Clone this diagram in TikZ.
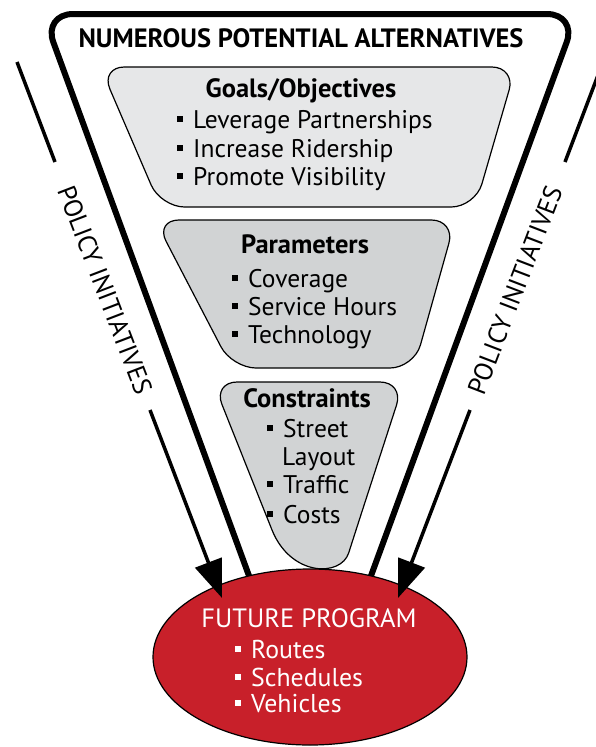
\documentclass[tikz,border=0pt]{standalone}
\usepackage{fontspec}
\setmainfont{PT Sans}
\usetikzlibrary{arrows.meta,shapes.geometric}
\definecolor{fpred}{HTML}{C8202A}
\definecolor{goalgray}{HTML}{E6E7E8}
\definecolor{pargray}{HTML}{D1D3D4}
% square list bullet followed by the gap before the item text
\newcommand{\sqbullet}{\rule[6pt]{6pt}{6pt}\hspace{10pt}}
\begin{document}
\begin{tikzpicture}[x=1pt,y=-1pt,
  funnel/.style={line width=6pt, rounded corners=30pt},
  panel/.style={draw=black, line width=1.2pt, rounded corners=24pt},
  policyline/.style={line width=3.5pt},
  policyarrow/.style={line width=3.5pt, -{Triangle[length=38pt,width=28pt]}},
  headtext/.style={font=\fontsize{26.5}{30}\selectfont\bfseries, inner sep=0pt, anchor=base},
  itemtext/.style={font=\fontsize{25.5}{30}\selectfont, inner sep=0pt, anchor=base west},
  policytext/.style={font=\fontsize{26}{30}\selectfont, inner sep=0pt},
  fptext/.style={font=\fontsize{26.5}{30}\selectfont, text=white, inner sep=0pt, anchor=base},
  fpitem/.style={font=\fontsize{25.8}{30}\selectfont, text=white, inner sep=0pt, anchor=base west}
]
\useasboundingbox (0,0) rectangle (595,747);

% outer funnel of alternatives
\coordinate (fL)  at (252,584);
\coordinate (fTL) at (43,14);
\coordinate (fTR) at (577,14);
\coordinate (fR)  at (368,584);
\draw[funnel] (fL) -- (fTL) -- (fTR) -- (fR);

% filter panels
\draw[panel, fill=goalgray] (308,67) -- (515.8,67) -- (475.2,207) -- (160.6,207) -- (100.4,67) -- cycle;
\draw[panel, fill=pargray] (305,220) -- (455.4,220) -- (414,368) -- (232,368) -- (155,220) -- cycle;
\draw[panel, fill=pargray] (308,382) -- (404,382) -- (356,530) [sharp corners]
  .. controls (341,577) and (291,577) .. (272,530) [rounded corners=24pt] -- (213,382) -- cycle;

% result
\node[ellipse, draw=black, line width=1.2pt, fill=fpred, minimum width=314pt, minimum height=176pt, inner sep=0pt] (fp) at (310,657) {};

% texts
\node[headtext] (title) at (301,47) {NUMEROUS POTENTIAL ALTERNATIVES};

\node[headtext] (gh) at (301,97) {Goals/Objectives};
\node[itemtext] (g1) at (177,128) {\sqbullet Leverage Partnerships};
\node[itemtext] (g2) at (177,157) {\sqbullet Increase Ridership};
\node[itemtext] (g3) at (177,185) {\sqbullet Promote Visibility};

\node[headtext] (ph) at (305,253) {Parameters};
\node[itemtext] (p1) at (232,287) {\sqbullet Coverage};
\node[itemtext] (p2) at (232,315) {\sqbullet Service Hours};
\node[itemtext] (p3) at (232,343) {\sqbullet Technology};

\node[headtext] (ch) at (307,407) {Constraints};
\node[itemtext] (c1) at (267,437) {\sqbullet Street};
\node[itemtext] (c2) at (282,465) {Layout};
\node[itemtext] (c3) at (267,493) {\sqbullet Traffic};
\node[itemtext] (c4) at (267,523) {\sqbullet Costs};

\node[fptext] (fph) at (309,627) {FUTURE PROGRAM};
\node[fpitem] (f1) at (235,658) {\sqbullet Routes};
\node[fpitem] (f2) at (235,686) {\sqbullet Schedules};
\node[fpitem] (f3) at (235,712) {\sqbullet Vehicles};

% policy initiatives pressing on the program
\node[policytext, rotate=-69] (polL) at (105,290) {POLICY INITIATIVES};
\node[policytext, rotate=69] (polR) at (515,290) {POLICY INITIATIVES};
\coordinate (lA) at (17,62);
\coordinate (lB) at (55,162);
\coordinate (lC) at (150,410);
\coordinate (tipL) at (222,598);
\coordinate (rA) at (603,62);
\coordinate (rB) at (565,162);
\coordinate (rC) at (470,410);
\coordinate (tipR) at (398,598);
\draw[policyline] (lA) -- (lB);
\draw[policyarrow] (lC) -- (tipL);
\draw[policyline] (rA) -- (rB);
\draw[policyarrow] (rC) -- (tipR);
\end{tikzpicture}
\end{document}
